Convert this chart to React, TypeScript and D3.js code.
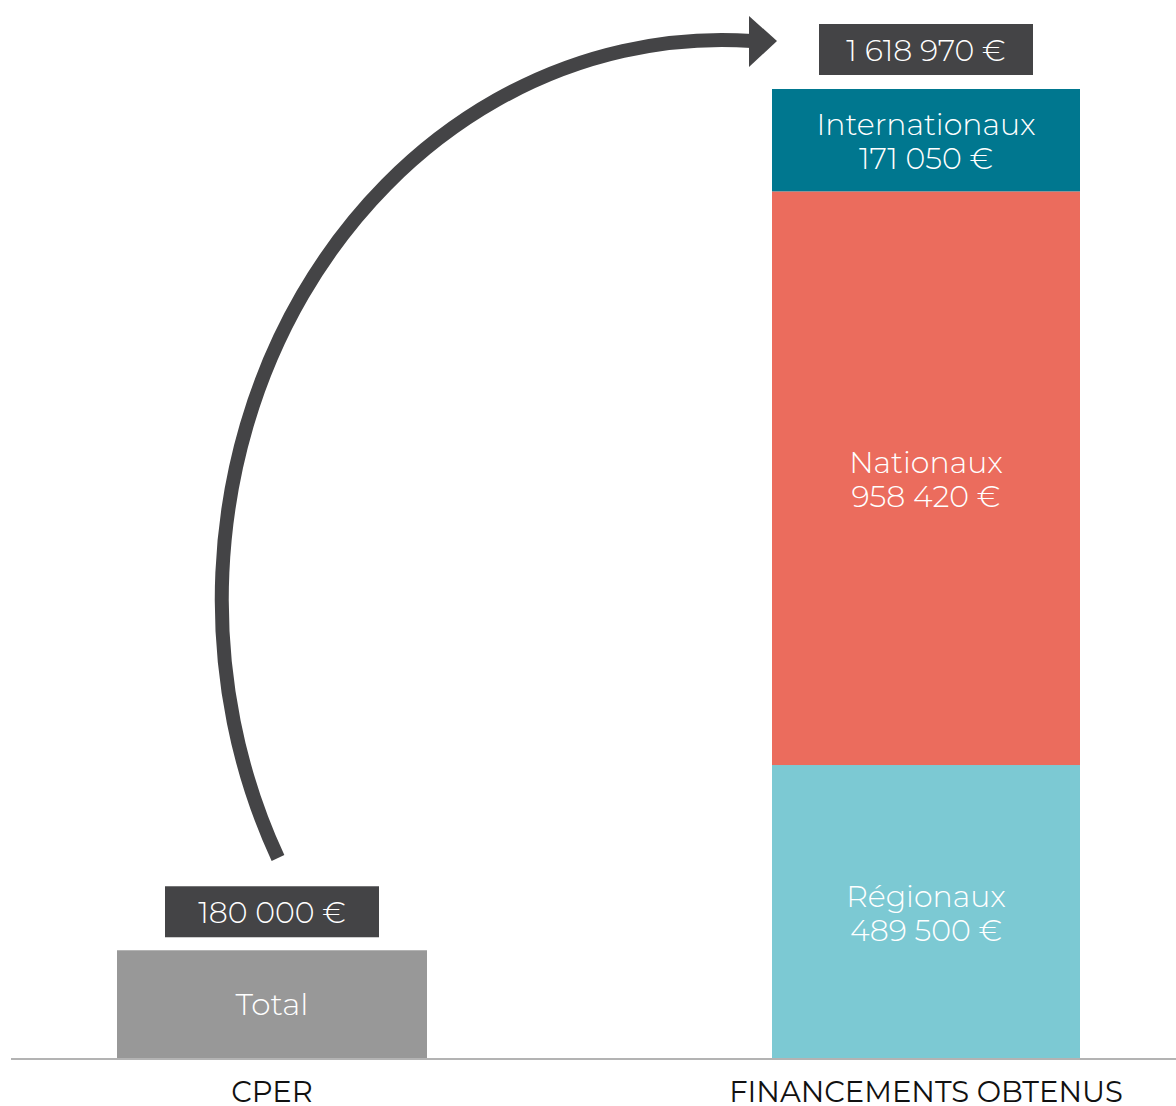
import React, { useEffect } from "react";
import * as d3 from "d3";

const categories = ["CPER", "FINANCEMENTS OBTENUS"];
const cperLabel = "Total";
const cperValue = 180000;
const segmentNames = ["Régionaux", "Nationaux", "Internationaux"];
const segmentValues = [489500, 958420, 171050];
const segmentColors = ["#7CC9D3", "#EB6C5D", "#00778F"];
const totalValue = 1618970;

const W = 1176;
const H = 1106;
const FONT = "Montserrat, 'Open Sans', 'DejaVu Sans', sans-serif";

const fmt = (v: number) => d3.format(",")(v).replace(/,/g, " ") + " €";

export default function App() {
  useEffect(() => {
    document.body.style.margin = "0";
  }, []);

  const baseY = 1058;
  const y = d3.scaleLinear().domain([0, totalValue]).range([baseY, 89]);
  const x = d3.scalePoint<string>().domain(categories).range([272, 926]);
  const barW = 310;

  let acc = 0;
  const segs = segmentValues.map((v, i) => {
    const y0 = acc;
    acc += v;
    return { name: segmentNames[i], value: v, color: segmentColors[i], y0, y1: acc };
  });

  const boxW = 214;
  const boxH = 51;
  const cx0 = x(categories[0]) as number;
  const cx1 = x(categories[1]) as number;

  const leftTop = y(cperValue);
  const rightTop = y(totalValue);

  return (
    <svg width={W} height={H} style={{ display: "block", background: "#fff" }} fontFamily={FONT}>
      {/* CPER bar */}
      <rect x={cx0 - barW / 2} y={leftTop} width={barW} height={baseY - leftTop} fill="#989898" />
      <text x={cx0} y={(leftTop + baseY) / 2 + 11} textAnchor="middle" fill="#fff" fontSize={31} fontWeight={300}>
        {cperLabel}
      </text>
      <rect x={cx0 - boxW / 2} y={leftTop - 64} width={boxW} height={boxH} fill="#444446" />
      <text x={cx0} y={leftTop - 27} textAnchor="middle" fill="#fff" fontSize={30} fontWeight={300}>
        {fmt(cperValue)}
      </text>

      {/* Stacked bar */}
      {segs.map((s) => (
        <g key={s.name}>
          <rect x={cx1 - barW / 2 + 1} y={y(s.y1)} width={barW - 2} height={y(s.y0) - y(s.y1)} fill={s.color} />
          <text x={cx1} y={(y(s.y0) + y(s.y1)) / 2 - 5} textAnchor="middle" fill="#fff" fontSize={30} fontWeight={300}>
            {s.name}
          </text>
          <text x={cx1} y={(y(s.y0) + y(s.y1)) / 2 + 29} textAnchor="middle" fill="#fff" fontSize={30} fontWeight={300}>
            {fmt(s.value)}
          </text>
        </g>
      ))}
      <rect x={cx1 - boxW / 2} y={rightTop - 65} width={boxW} height={boxH} fill="#444446" />
      <text x={cx1} y={rightTop - 28} textAnchor="middle" fill="#fff" fontSize={30} fontWeight={300}>
        {fmt(totalValue)}
      </text>

      {/* Arrow */}
      <path d="M278,858 A500,560 0 0 1 752,41" fill="none" stroke="#444446" strokeWidth={14} />
      <polygon points="749,16 777,41 749,67" fill="#444446" />

      {/* baseline */}
      <line x1={11} x2={W} y1={baseY + 1} y2={baseY + 1} stroke="#9a9a9a" strokeWidth={1.5} />

      {/* category labels */}
      {categories.map((c) => (
        <text key={c} x={x(c) as number} y={1102} textAnchor="middle" fill="#111" fontSize={29} fontWeight={400}>
          {c}
        </text>
      ))}
    </svg>
  );
}
